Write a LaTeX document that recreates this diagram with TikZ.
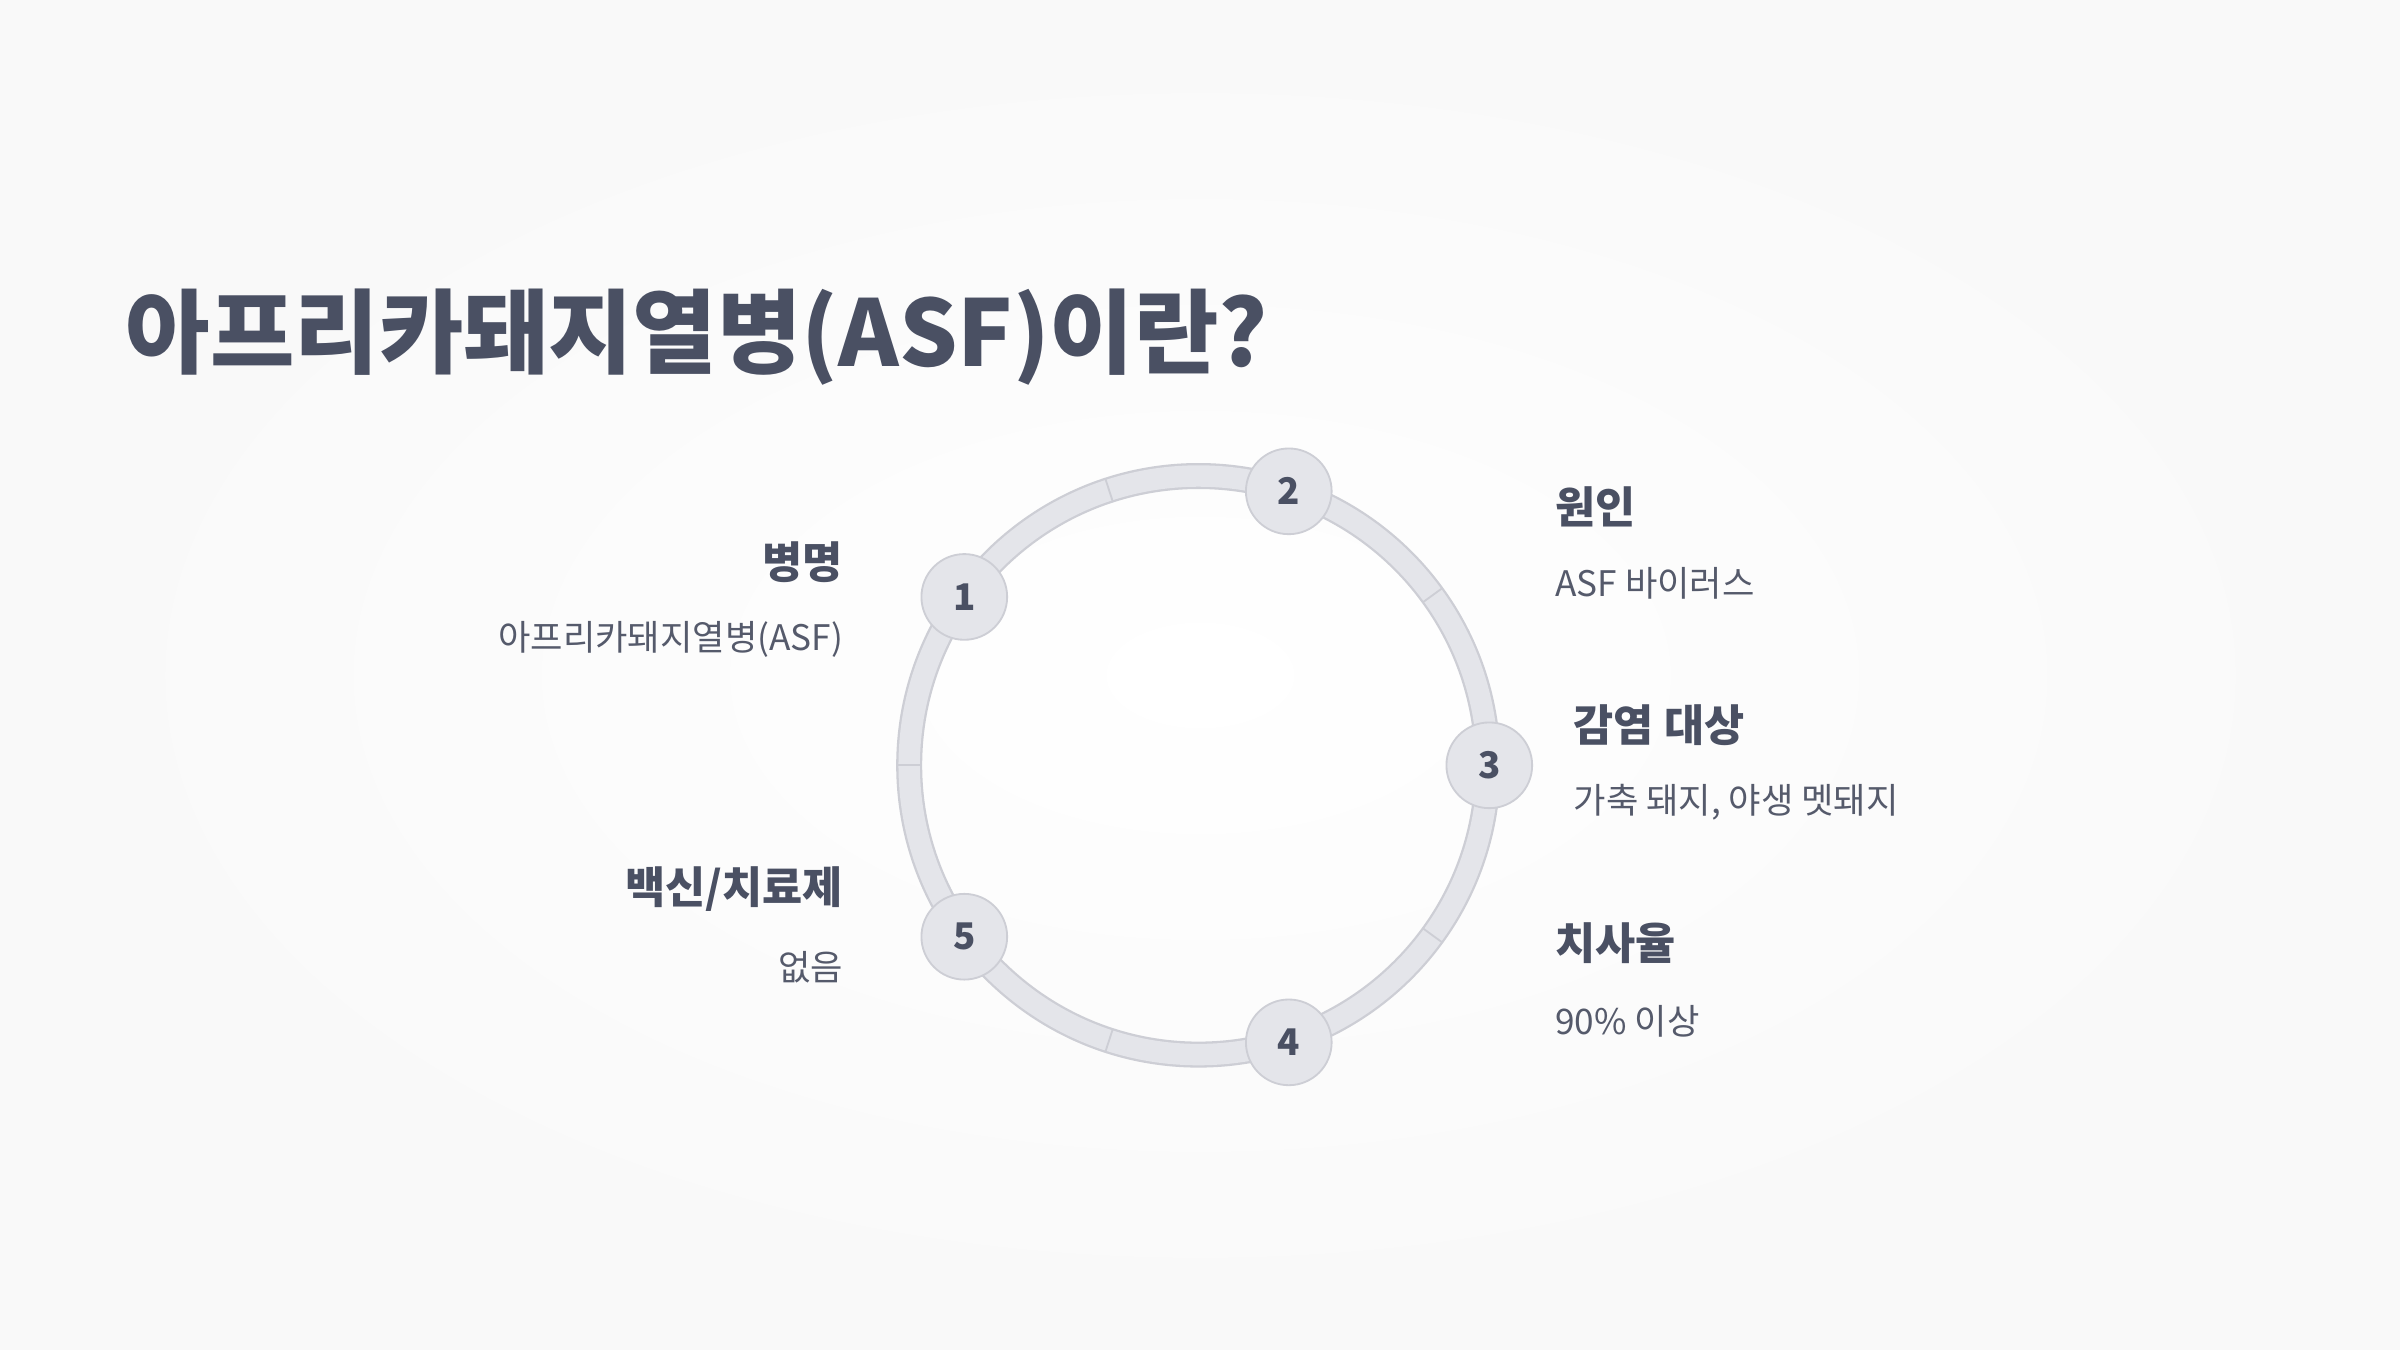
\documentclass[tikz,border=0pt]{standalone}
\usepackage{fontspec}
\usetikzlibrary{calc}
\setmainfont{Noto Sans CJK KR}
\definecolor{ttl}{HTML}{4A5063}
\definecolor{txt}{HTML}{555A6B}
\definecolor{ringf}{HTML}{E4E5EA}
\definecolor{ringb}{HTML}{CDCED5}
\tikzset{
 num/.style={circle,fill=ringf,draw=ringb,line width=1.2pt,minimum size=56pt,inner sep=0pt,font=\fontsize{24}{28}\selectfont\bfseries,text=ttl},
 head/.style={font=\fontsize{28.5}{32}\selectfont\bfseries,text=ttl,inner sep=0pt},
 body/.style={font=\fontsize{23}{26}\selectfont,text=txt,inner sep=0pt}
}
\begin{document}
\begin{tikzpicture}[x=1pt,y=-1pt]
\fill[white] (0,0) rectangle (1568,882);
\shade[inner color=white,outer color=white!95!gray] (0,0) rectangle (1568,882);
\node[anchor=west,inner sep=0pt,font=\fontsize{60}{66}\selectfont\bfseries,text=ttl] (title) at (82,220) {아프리카돼지열병(ASF)이란?};
\coordinate (c) at (783,500);
\draw[ringb,line width=17pt] (c) circle[radius=189];
\draw[ringf,line width=14pt] (c) circle[radius=189];
\foreach \a in {108,36,-36,-108,180}
  \draw[ringb,line width=1.2pt] ($(c)+(\a:181)$) -- ($(c)+(\a:197)$);
\node[num] (n1) at (630,390) {1};
\node[num] (n2) at (842,321) {2};
\node[num] (n3) at (973,500) {3};
\node[num] (n4) at (842,681) {4};
\node[num] (n5) at (630,612) {5};
\node[head,anchor=east] (h1) at (551,367) {병명};
\node[body,anchor=east] (b1) at (551,418) {아프리카돼지열병(ASF)};
\node[head,anchor=west] (h2) at (1016,331) {원인};
\node[body,anchor=west] (b2) at (1016,381) {ASF 바이러스};
\node[head,anchor=west] (h3) at (1028,474) {감염 대상};
\node[body,anchor=west] (b3) at (1028,524) {가축 돼지, 야생 멧돼지};
\node[head,anchor=west] (h4) at (1016,616) {치사율};
\node[body,anchor=west] (b4) at (1016,667) {90\% 이상};
\node[head,anchor=east] (h5) at (551,581) {백신/치료제};
\node[body,anchor=east] (b5) at (551,632) {없음};
\end{tikzpicture}
\end{document}
